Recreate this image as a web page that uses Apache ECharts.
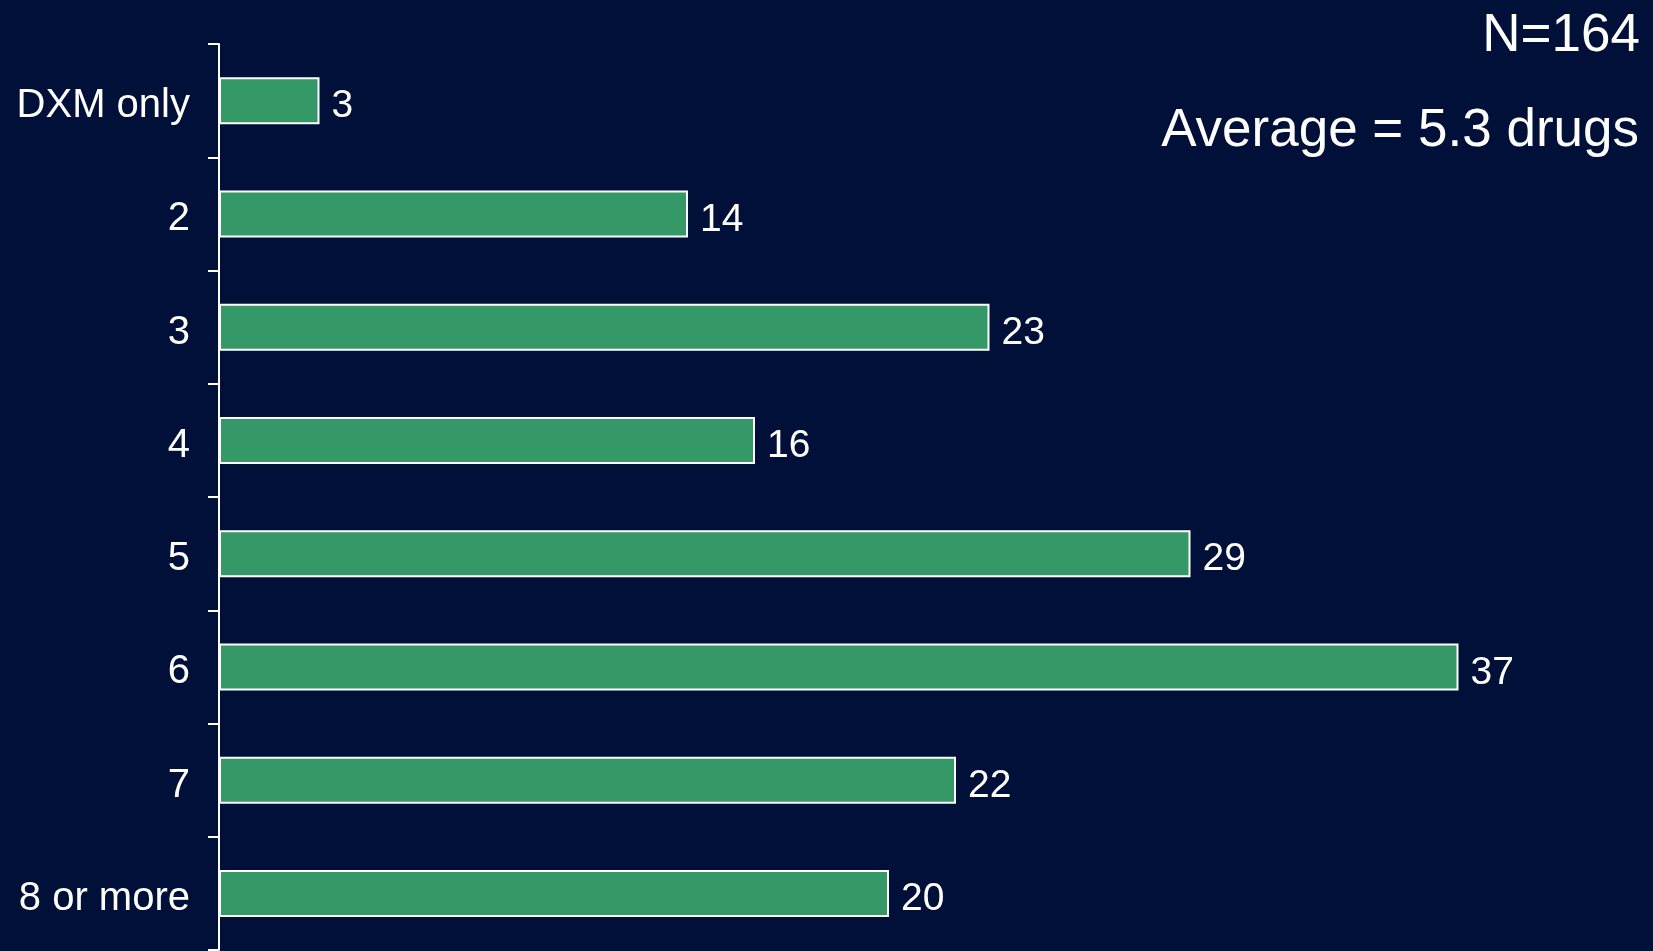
<!DOCTYPE html>
<html>
<head>
<meta charset="utf-8">
<script src="https://cdn.jsdelivr.net/npm/echarts@6/dist/echarts.min.js"></script>
<style>
html,body{margin:0;padding:0;background:#001038;}
#chart{width:1653px;height:951px;}
</style>
</head>
<body>
<div id="chart"></div>
<script>
var categories = ['DXM only', '2', '3', '4', '5', '6', '7', '8 or more'];
var values = [3, 14, 23, 16, 29, 37, 22, 20];
var noteLines = ['N=164', 'Average = 5.3 drugs'];

var FONT = 'Liberation Sans, Arial, sans-serif';
var chart = echarts.init(document.getElementById('chart'));
chart.setOption({
  backgroundColor: '#001038',
  animation: false,
  textStyle: { fontFamily: FONT },
  grid: { left: 219, right: 94, top: 44, bottom: 1, containLabel: false },
  xAxis: {
    type: 'value', min: 0, max: 40,
    show: false
  },
  yAxis: {
    type: 'category', data: categories, inverse: true,
    axisLine: { show: true, lineStyle: { color: '#ffffff', width: 2 } },
    axisTick: { show: true, length: 11, lineStyle: { color: '#ffffff', width: 2 } },
    axisLabel: {
      color: '#ffffff', fontSize: 40, margin: 29, fontFamily: FONT,
      formatter: function (v) { return '{a|' + v + '}'; },
      rich: { a: { color: '#ffffff', fontSize: 40, fontFamily: FONT, padding: [11, 0, 0, 0] } }
    },
    splitLine: { show: false }
  },
  series: [{
    type: 'bar',
    data: values,
    barWidth: 47,
    itemStyle: { color: '#349966', borderColor: '#ffffff', borderWidth: 2 },
    label: {
      show: true, position: 'right', distance: 12,
      color: '#ffffff', fontSize: 39, offset: [0, 6],
      fontFamily: FONT
    }
  }],
  graphic: [
    { type: 'text', right: 13, top: 10, style: { text: noteLines[0], fill: '#ffffff', font: '53px "Liberation Sans", Arial, sans-serif', textAlign: 'right' } },
    { type: 'text', right: 14, top: 105, style: { text: noteLines[1], fill: '#ffffff', font: '53px "Liberation Sans", Arial, sans-serif', textAlign: 'right' } }
  ]
});
</script>
</body>
</html>
